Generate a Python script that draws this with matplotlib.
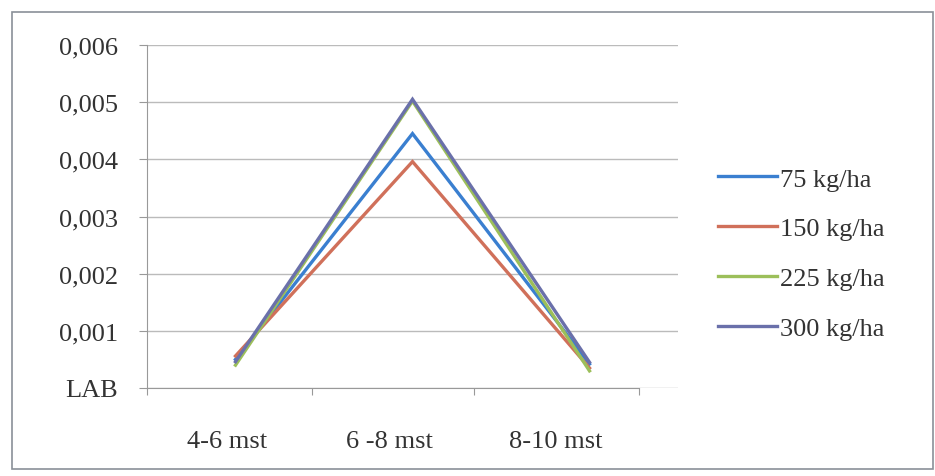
import matplotlib
matplotlib.use("Agg")
import matplotlib.pyplot as plt
from matplotlib.patches import Rectangle

# data
periods = ["4-6 mst", "6 -8 mst", "8-10 mst"]
s75 = [0.00050, 0.00445, 0.00042]
s150 = [0.00056, 0.00396, 0.00035]
s225 = [0.00040, 0.00502, 0.00030]
s300 = [0.00046, 0.00505, 0.00045]
series_names = ["75 kg/ha", "150 kg/ha", "225 kg/ha", "300 kg/ha"]
y_ticks = [0, 0.001, 0.002, 0.003, 0.004, 0.005, 0.006]
y_labels = ["LAB", "0,001", "0,002", "0,003", "0,004", "0,005", "0,006"]

plt.rcParams['font.family'] = ['Liberation Serif', 'DejaVu Serif']
fs = 19

fig = plt.figure(figsize=(9.35, 4.77), dpi=100)
ax = fig.add_axes([147/935, 1-389/477, (678-147)/935, (389-46)/477])

cols = ["#3a7fd0", "#d0705a", "#9cbf5a", "#6a70aa"]
x = [0, 1, 2]
for vals, c, name in zip([s75, s150, s225, s300], cols, series_names):
    ax.plot(x, vals, color=c, lw=2.4, label=name, solid_joinstyle='miter')

ax.set_xlim(-0.5, 2.5)
ax.set_ylim(0, 0.006)
ax.set_yticks(y_ticks)
ax.set_yticklabels(y_labels, fontsize=fs, color="#333333")
ax.yaxis.grid(True, color="#bbbbbb", lw=1)
ax.set_axisbelow(True)
ax.tick_params(axis='y', length=6, color="#999999", pad=15)

# category boundaries / labels as they sit on the original
ax.set_xticks([-0.5, 0.43, 1.35, 2.28])
ax.set_xticklabels([])
ax.set_xticks([-0.045, 0.87, 1.81], minor=True)
ax.set_xticklabels(periods, minor=True, fontsize=fs, color="#333333")
ax.tick_params(axis='x', which='major', length=5, color="#999999", direction='out')
ax.tick_params(axis='x', which='minor', length=0, pad=30)

for s in ['top', 'right']:
    ax.spines[s].set_visible(False)
ax.spines['left'].set_color("#999999")
ax.spines['bottom'].set_color("#999999")
ax.spines['bottom'].set_bounds(-0.5, 2.28)

leg = ax.legend(loc='upper left', bbox_to_anchor=(1.075, 0.644), frameon=False,
                fontsize=fs, handlelength=2.25, handletextpad=0.1,
                labelspacing=1.0, borderaxespad=0, borderpad=0)
for t in leg.get_texts():
    t.set_color("#333333")

fig.patches.append(Rectangle((12/935, 1-470/477), (933-12)/935, (470-13)/477,
                             transform=fig.transFigure, fill=False,
                             edgecolor="#8a9098", lw=1.2))

fig.savefig("out.png", dpi=100)
